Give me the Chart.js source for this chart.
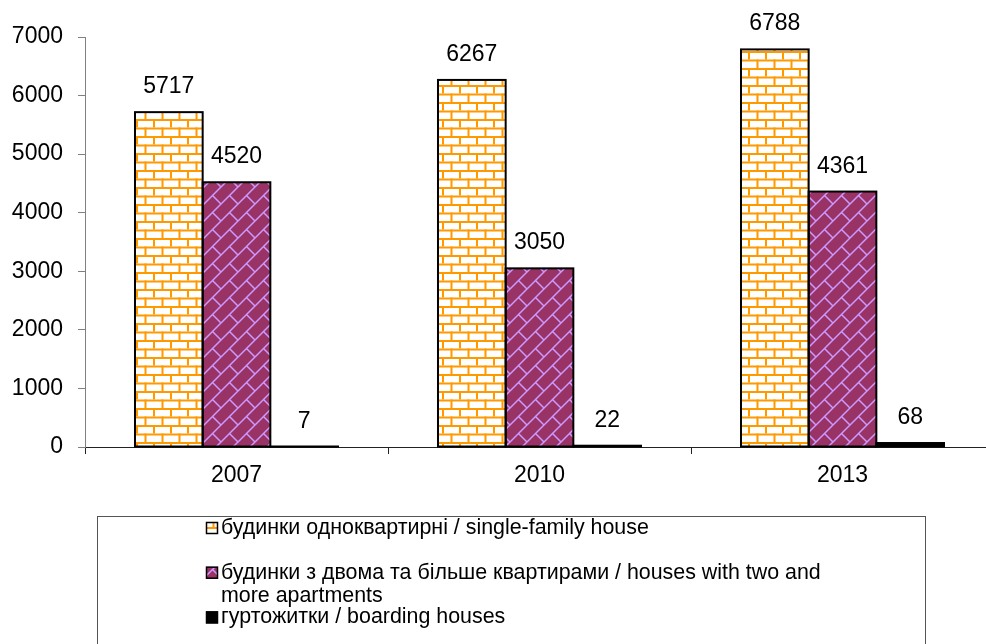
<!DOCTYPE html>
<html lang="uk">
<head>
<meta charset="UTF-8" />
<title>chart</title>
<script src="https://cdn.jsdelivr.net/npm/chart.js"></script>
<style>
  html, body {
    margin: 0;
    padding: 0;
    background: #fff;
    overflow: hidden;
  }
  #wrap {
    width: 1000px;
    height: 644px;
  }
</style>
</head>
<body>
<div id="wrap">
  <canvas id="chart" width="1000" height="644"></canvas>
</div>

<script>
  // data
  const years = ['2007', '2010', '2013'];
  const singleFamily = [5717, 6267, 6788];
  const multiApartment = [4520, 3050, 4361];
  const boardingHouses = [7, 22, 68];
  const seriesNames = [
    'будинки одноквартирні / single-family house',
    'будинки з двома та більше квартирами / houses with two and more apartments',
    'гуртожитки / boarding houses'
  ];
  const yMax = 7000;
  const yStep = 1000;

  const FONT = "'Liberation Sans', Arial, sans-serif";

  // brick pattern (orange mortar, white bricks)
  function brickPattern() {
    const c = document.createElement('canvas');
    c.width = 17; c.height = 17;
    const g = c.getContext('2d');
    g.fillStyle = '#fff';
    g.fillRect(0, 0, 17, 17);
    g.fillStyle = '#ff9900';
    g.fillRect(0, 0, 17, 2);
    g.fillRect(0, 8.5, 17, 2);
    g.fillRect(0, 0, 2, 8.5);
    g.fillRect(8.5, 8.5, 2, 8.5);
    return g.createPattern(c, 'repeat');
  }

  // diagonal brick pattern (light purple on plum)
  function diagBrickPattern() {
    const s = 17;
    const c = document.createElement('canvas');
    c.width = s; c.height = s;
    const g = c.getContext('2d');
    g.fillStyle = '#993366';
    g.fillRect(0, 0, s, s);
    g.strokeStyle = '#cc99ff';
    g.lineWidth = 1.5;
    g.beginPath();
    g.moveTo(-2, s + 2); g.lineTo(s + 2, -2);
    g.moveTo(s - 2, s + 2); g.lineTo(s + 2, s - 2);
    g.moveTo(-2, 2); g.lineTo(2, -2);
    g.moveTo(s / 2, s / 2); g.lineTo(s, s);
    g.stroke();
    return g.createPattern(c, 'repeat');
  }

  const fills = [brickPattern(), diagBrickPattern(), '#000000'];

  // outlines drawn like the original (stroke centred on edge, so tiny bars still show)
  const barOutline = {
    id: 'barOutline',
    afterDatasetsDraw(chart) {
      const ctx = chart.ctx;
      ctx.save();
      ctx.strokeStyle = '#000';
      ctx.lineWidth = 2;
      chart.data.datasets.forEach((ds, i) => {
        chart.getDatasetMeta(i).data.forEach(bar => {
          const w = bar.width;
          ctx.strokeRect(bar.x - w / 2, bar.y, w, bar.base - bar.y);
        });
      });
      ctx.restore();
    }
  };

  const valueLabels = {
    id: 'valueLabels',
    afterDatasetsDraw(chart) {
      const ctx = chart.ctx;
      ctx.save();
      ctx.font = '23px ' + FONT;
      ctx.fillStyle = '#000';
      ctx.textAlign = 'center';
      ctx.textBaseline = 'alphabetic';
      chart.data.datasets.forEach((ds, i) => {
        chart.getDatasetMeta(i).data.forEach((bar, j) => {
          ctx.fillText(String(ds.data[j]), bar.x, bar.y - 19);
        });
      });
      ctx.restore();
    }
  };

  // boxed legend below the plot, with wrapping like the source
  const boxLegend = {
    id: 'boxLegend',
    afterDraw(chart) {
      const ctx = chart.ctx;
      ctx.save();
      ctx.strokeStyle = '#555';
      ctx.lineWidth = 1;
      ctx.strokeRect(97.5, 516.5, 828, 200);
      ctx.font = '21.4px ' + FONT;
      ctx.textBaseline = 'middle';
      const textX = 221, maxW = 625;
      chart.data.datasets.forEach((ds, i) => {
        let y = 528 + i * 44.7;
        ctx.fillStyle = ds.backgroundColor;
        ctx.fillRect(206, y - 6, 12, 12);
        ctx.strokeStyle = '#000';
        ctx.lineWidth = 1.5;
        ctx.strokeRect(206.5, y - 5.5, 11, 11);
        ctx.fillStyle = '#000';
        const words = ds.label.split(' ');
        let line = '';
        words.forEach(w => {
          const test = line ? line + ' ' + w : w;
          if (ctx.measureText(test).width > maxW && line) {
            ctx.fillText(line, textX, y);
            line = w;
            y += 23;
          } else {
            line = test;
          }
        });
        ctx.fillText(line, textX, y);
      });
      ctx.restore();
    }
  };

  new Chart(document.getElementById('chart'), {
    type: 'bar',
    data: {
      labels: years,
      datasets: [singleFamily, multiApartment, boardingHouses].map((vals, i) => ({
        label: seriesNames[i],
        data: vals,
        backgroundColor: fills[i],
        borderWidth: 0,
        barPercentage: 1,
        categoryPercentage: 0.67
      }))
    },
    options: {
      responsive: false,
      animation: false,
      layout: { padding: { top: 37, right: 6, left: 0, bottom: 0 } },
      plugins: {
        legend: { display: false },
        tooltip: { enabled: false }
      },
      scales: {
        x: {
          offset: true,
          grid: {
            display: true,
            offset: true,
            drawOnChartArea: false,
            drawTicks: true,
            tickLength: 7,
            color: '#222'
          },
          border: { display: true, color: '#222', width: 1 },
          ticks: { color: '#000', font: { family: FONT, size: 23 }, padding: 8 },
          afterFit(s) { s.height = 197; }
        },
        y: {
          min: 0,
          max: yMax,
          grid: {
            drawOnChartArea: false,
            drawTicks: true,
            tickLength: 7,
            color: '#808080'
          },
          border: { display: true, color: '#808080', width: 1 },
          ticks: {
            stepSize: yStep,
            color: '#000',
            font: { family: FONT, size: 23 },
            padding: 15,
            callback: v => String(v)
          },
          afterFit(s) { s.width = 85; }
        }
      }
    },
    plugins: [barOutline, valueLabels, boxLegend]
  });
</script>
</body>
</html>
